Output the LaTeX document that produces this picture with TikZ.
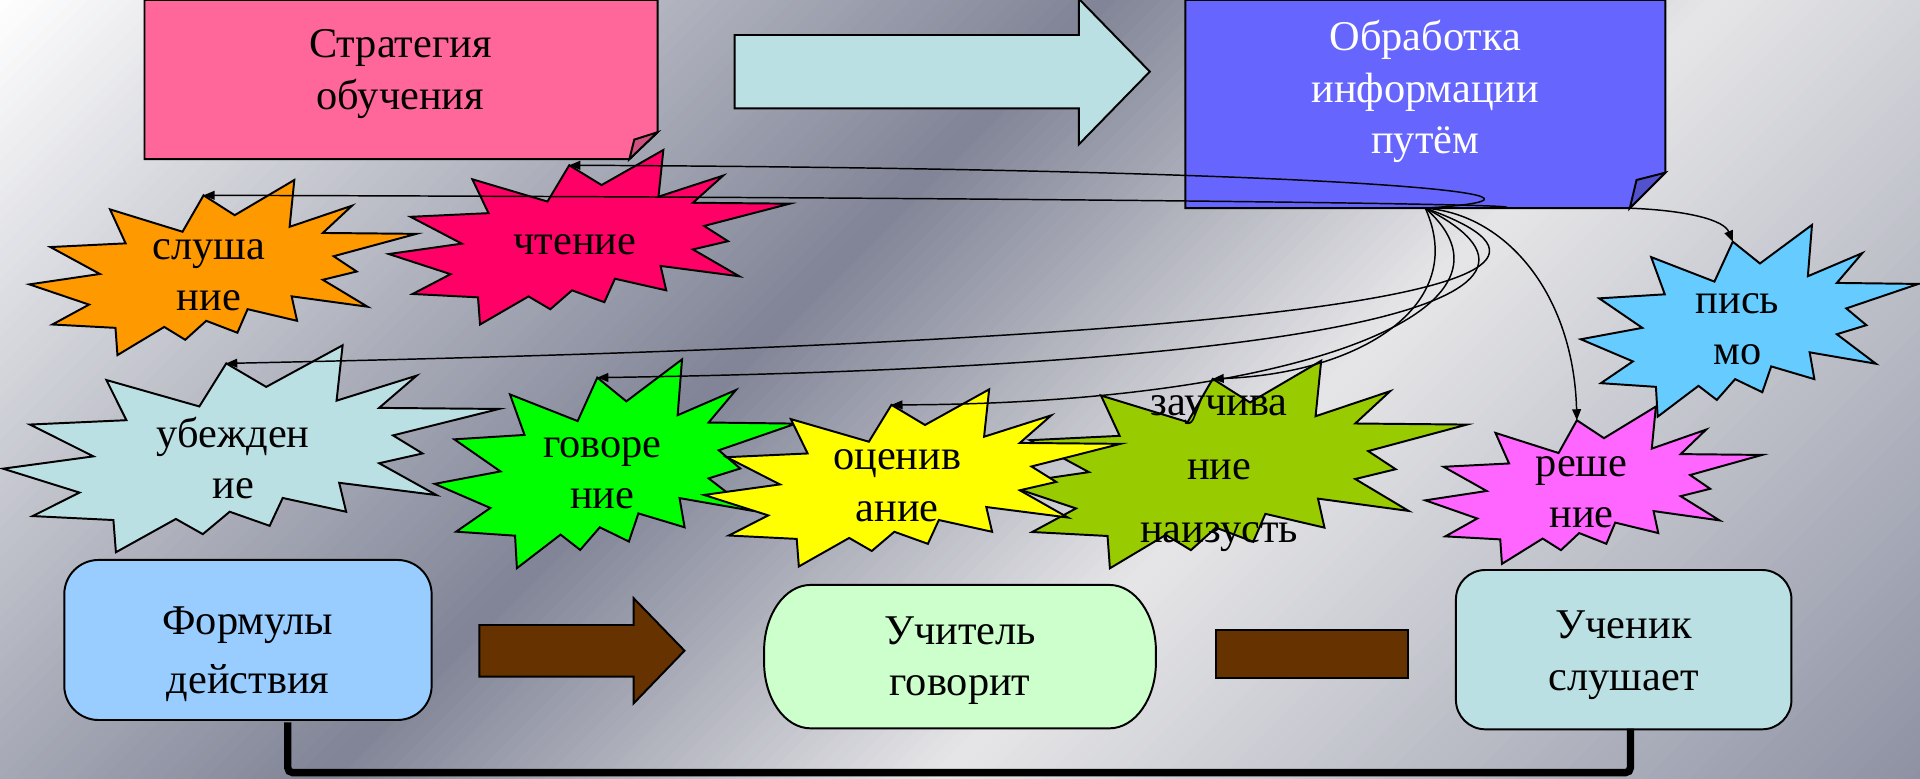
\documentclass[tikz,border=0pt]{standalone}
\usepackage{fontspec}
\setmainfont{Liberation Serif}
\usetikzlibrary{arrows.meta}

\definecolor{bgdark}{HTML}{808496}
\definecolor{bglight}{HTML}{E6E6E8}
\definecolor{bgend}{HTML}{8C90A2}
\definecolor{stratpink}{HTML}{FF6699}
\definecolor{stratfold}{HTML}{CC5280}
\definecolor{infoblue}{HTML}{6666FF}
\definecolor{infofold}{HTML}{5252CC}
\definecolor{paleteal}{HTML}{BBE0E3}
\definecolor{formblue}{HTML}{99CCFF}
\definecolor{teachgreen}{HTML}{CCFFCC}
\definecolor{arrowbrown}{HTML}{663300}
\definecolor{listenorange}{HTML}{FF9900}
\definecolor{readred}{HTML}{FF0066}
\definecolor{speakgreen}{HTML}{00FF00}
\definecolor{assessyellow}{HTML}{FFFF00}
\definecolor{memolive}{HTML}{99CC00}
\definecolor{solvepink}{HTML}{FF66FF}
\definecolor{writeblue}{HTML}{66CCFF}

\tikzset{
  shapeline/.style={draw=black, line width=0.8pt},
  boxtext/.style={font=\fontsize{17.3}{21}\selectfont, align=center, inner sep=0pt},
  link/.style={line width=0.6pt, -{Triangle[length=4.5pt, width=3.6pt]}},
  bracket/.style={line width=3pt, rounded corners=2pt},
}

% burst: name, left, top, width, height, fill, text
\newcommand{\burst}[7]{%
  \begin{scope}[shift={(#2,#3)}, xscale=#4/100, yscale=#5/100]
    \filldraw[shapeline, fill=#6] (53.06,20.10) -- (68.47,0) -- (67.25,26.75) -- (83.37,14.69)
      -- (75.83,30.24) -- (100,30.76) -- (78.63,43.53) -- (84.58,52.27) -- (75.83,56.99)
      -- (87.39,72.37) -- (67.78,66.44) -- (69.18,80.42) -- (56.39,73.77) -- (53.76,87.23)
      -- (45.70,80.42) -- (40.28,91.26) -- (34.85,83.91) -- (22.76,100) -- (22.25,84.44)
      -- (5.95,82.52) -- (15.42,71.16) -- (0,59.62) -- (18.22,53.67) -- (5.43,38.29)
      -- (24.87,36.19) -- (20.84,16.78) -- (39.58,29.55) -- (45.01,8.74) -- cycle;
    \coordinate (#1 tip) at (45.01,8.74);
    \node[boxtext] (#1) at (46.4,54.5) {#7};
  \end{scope}}

\begin{document}
\begin{tikzpicture}[x=0.5pt, y=-0.5pt]
  \useasboundingbox (0,0) rectangle (1568,636);

  % background
  \begin{scope}
    \clip (0,0) rectangle (1568,636);
    \foreach \s in {0,12,...,888} {
      \pgfmathsetmacro\p{100-(\s+6)/9}
      \fill[white!\p!bgdark] (\s,0) -- ++(13,0) -- ++(-636,636) -- ++(-13,0) -- cycle;
    }
    \foreach \s in {900,912,...,1392} {
      \pgfmathsetmacro\p{(\s+6-900)/5}
      \fill[bglight!\p!bgdark] (\s,0) -- ++(13,0) -- ++(-636,636) -- ++(-13,0) -- cycle;
    }
    \foreach \s in {1404,1416,...,2208} {
      \pgfmathsetmacro\p{max(0,100-(\s+6-1404)/8.1)}
      \fill[bglight!\p!bgend] (\s,0) -- ++(13,0) -- ++(-636,636) -- ++(-13,0) -- cycle;
    }
  \end{scope}

  % top row
  \filldraw[shapeline, fill=stratpink] (118,0) -- (537,0) -- (537,108) -- (514,130) -- (118,130) -- cycle;
  \filldraw[shapeline, fill=stratfold] (537,108) -- (518,114) -- (514,130) -- cycle;
  \node[boxtext] (strategy) at (327,60.5) {Стратегия\\обучения};

  \filldraw[shapeline, fill=paleteal] (600,28.6) -- (881,28.6) -- (881,-1) -- (939,58.5)
    -- (881,118) -- (881,88.5) -- (600,88.5) -- cycle;

  \filldraw[shapeline, fill=infoblue] (968,0) -- (1360,0) -- (1360,141) -- (1331,170) -- (968,170) -- cycle;
  \filldraw[shapeline, fill=infofold] (1360,141) -- (1336.5,147) -- (1331,170) -- cycle;
  \node[boxtext, white] (info) at (1164,75) {Обработка\\информации\\путём};
  \coordinate (info out) at (1164,170);
  \coordinate (info corner) at (1331,170);

  % bursts
  \burst{listen}{24}{147}{316}{143}{listenorange}{слуша\\ние}
  \burst{read}{317.5}{122.5}{327.5}{142.5}{readred}{чтение}
  \burst{persuade}{2.5}{282}{405}{169}{paleteal}{убежден\\ие}
  \burst{speak}{355}{293.5}{295}{170.5}{speakgreen}{говоре\\ние}
  \burst{memorize}{820.5}{294.6}{377.5}{169.5}{memolive}{заучива\\[5pt]ние\\[5pt]наизусть}
  \burst{assess}{575}{318}{340}{144.6}{assessyellow}{оценив\\ание}
  \burst{solve}{1164}{332}{275}{128.5}{solvepink}{реше\\ние}
  \burst{write}{1291}{183.7}{275.7}{156.6}{writeblue}{пись\\мо}

  % bottom row
  \draw[shapeline, fill=formblue, rounded corners=14pt] (52.5,457.3) rectangle (352.5,588)
        node (formulas) [pos=.5, boxtext, yshift=-5.75pt] {Формулы\\[3pt]действия};
  \filldraw[shapeline, fill=arrowbrown] (391.5,510.4) -- (517.5,510.4) -- (517.5,488.6) -- (559,531.4)
    -- (517.5,574.4) -- (517.5,552.6) -- (391.5,552.6) -- cycle;
  \filldraw[shapeline, fill=teachgreen] (662,477.7) -- (906,477.7)
    arc[start angle=90, end angle=0, x radius=19pt, y radius=27pt] -- (944,540.8)
    arc[start angle=0, end angle=-90, x radius=19pt, y radius=27pt] -- (662,594.8)
    arc[start angle=270, end angle=180, x radius=19pt, y radius=27pt] -- (624,531.7)
    arc[start angle=180, end angle=90, x radius=19pt, y radius=27pt] -- cycle;
  \node[boxtext] (teacher) at (784,539.5) {Учитель\\говорит};
  \filldraw[shapeline, fill=arrowbrown] (993,514.5) rectangle (1150,554);
  \draw[shapeline, fill=paleteal, rounded corners=12pt] (1189,465.5) rectangle (1463,595.6)
        node (pupil) [pos=.5, boxtext, yshift=-2.3pt] {Ученик\\слушает};
  \coordinate (formulas foot) at (235,590);
  \coordinate (pupil foot) at (1331.5,595);
  \draw[bracket] (formulas foot) -- ++(0,41) -| (pupil foot);

  % links
  \draw[link] (info out) .. controls (1370,170) and (1100,162) .. (listen tip);
  \draw[link] (info out) .. controls (1320,160) and (1100,138) .. (read tip);
  \draw[link] (info out) .. controls (1360,240) and (1000,280) .. (persuade tip);
  \draw[link] (info out) .. controls (1320,250) and (1050,300) .. (speak tip);
  \draw[link] (info out) .. controls (1260,255) and (1050,330) .. (assess tip);
  \draw[link] (info out) .. controls (1200,250) and (1110,305) .. (memorize tip);
  \draw[link] (info out) .. controls (1230,175) and (1285,240) .. (solve tip);
  \draw[link] (info corner) .. controls (1380,172) and (1408,180) .. (write tip);
\end{tikzpicture}
\end{document}
